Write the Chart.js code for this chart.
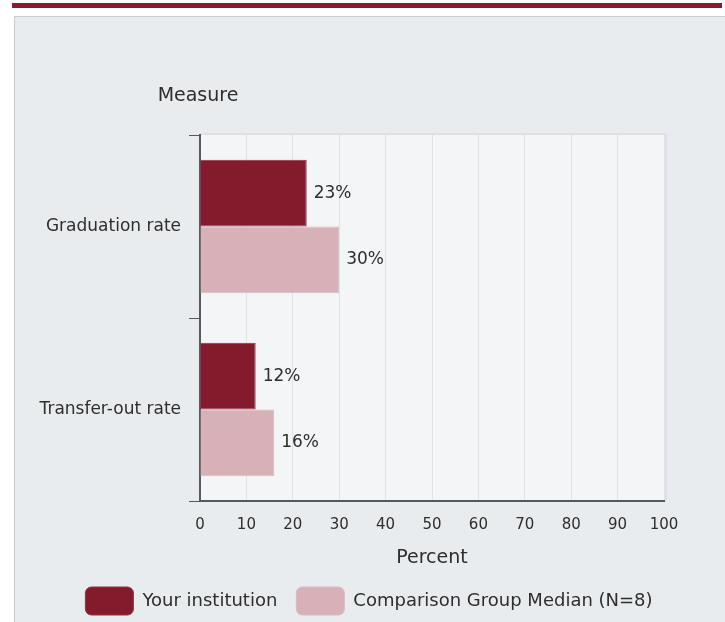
<!DOCTYPE html>
<html>
<head>
<meta charset="utf-8">
<script src="https://cdn.jsdelivr.net/npm/chart.js@4/dist/chart.umd.min.js"></script>
<style>
  body { margin: 0; background: #fff; }
  #topbar { position: absolute; left: 12px; top: 3px; width: 710px; height: 5px; background: #8b1a2e; }
  #panel { position: absolute; left: 14px; top: 16px; width: 720px; height: 620px; background: #e8ecee; border: 1px solid #c9cdd0; }
  #wrap { position: absolute; left: 0; top: 0; width: 725px; height: 622px; }
</style>
</head>
<body>
<div id="topbar"></div>
<div id="panel"></div>
<div id="wrap"><canvas id="measureChart" width="725" height="622"></canvas></div>
<script>
// chart values
var categories = ['Graduation rate', 'Transfer-out rate'];
var institutionValues = [23, 12];
var comparisonValues = [30, 16];
var xTicks = [0, 10, 20, 30, 40, 50, 60, 70, 80, 90, 100];

var fontFamily = '"DejaVu Sans", Verdana, sans-serif';
var textColor = '#2e2e2e';

// plot background + axis headings
var plotBackground = {
  id: 'plotBackground',
  beforeDraw: function (chart) {
    var a = chart.chartArea;
    var ctx = chart.ctx;
    ctx.save();
    ctx.fillStyle = '#dde1e5';
    ctx.fillRect(a.left, a.top - 2, a.right - a.left + 3, a.bottom - a.top + 2);
    ctx.fillStyle = '#f4f5f6';
    ctx.fillRect(a.left, a.top, a.right - a.left, a.bottom - a.top);
    ctx.fillStyle = textColor;
    ctx.font = '19px ' + fontFamily;
    ctx.textAlign = 'center';
    ctx.textBaseline = 'middle';
    ctx.fillText('Measure', a.left - 2, a.top - 39);
    ctx.fillText('Percent', (a.left + a.right) / 2, a.bottom + 57);
    ctx.restore();
  }
};

// legend sits a bit right of the plot centre in the original
var legendShift = {
  id: 'legendShift',
  afterLayout: function (chart) {
    if (chart.legend) {
      chart.legend.left += 22;
      chart.legend.right += 22;
    }
  }
};

// percent labels right of each bar
var valueLabels = {
  id: 'valueLabels',
  afterDatasetsDraw: function (chart) {
    var ctx = chart.ctx;
    ctx.save();
    ctx.fillStyle = textColor;
    ctx.font = '17px ' + fontFamily;
    ctx.textAlign = 'left';
    ctx.textBaseline = 'middle';
    chart.data.datasets.forEach(function (ds, i) {
      chart.getDatasetMeta(i).data.forEach(function (bar, j) {
        ctx.fillText(ds.data[j] + '%', bar.x + 7, bar.y);
      });
    });
    ctx.restore();
  }
};

var ctx = document.getElementById('measureChart').getContext('2d');
var chart = new Chart(ctx, {
  type: 'bar',
  data: {
    labels: categories,
    datasets: [
      {
        label: 'Your institution',
        data: institutionValues,
        backgroundColor: '#841b2d',
        borderColor: '#8f3345',
        borderWidth: 1,
        categoryPercentage: 0.73,
        barPercentage: 1.0
      },
      {
        label: 'Comparison Group Median (N=8)',
        data: comparisonValues,
        backgroundColor: '#d8b1b8',
        borderColor: '#dcb9bf',
        borderWidth: 1,
        categoryPercentage: 0.73,
        barPercentage: 1.0
      }
    ]
  },
  options: {
    indexAxis: 'y',
    responsive: false,
    animation: false,
    devicePixelRatio: 1,
    layout: { padding: { left: 30, right: 61, top: 135, bottom: -3 } },
    plugins: {
      legend: {
        display: true,
        position: 'bottom',
        labels: {
          color: textColor,
          font: { family: fontFamily, size: 18 },
          boxWidth: 48,
          boxHeight: 28,
          useBorderRadius: true,
          borderRadius: 6,
          padding: 19
        }
      },
      tooltip: { enabled: false }
    },
    scales: {
      x: {
        min: 0,
        max: 100,
        afterBuildTicks: function (s) {
          s.ticks = xTicks.map(function (v) { return { value: v }; });
        },
        afterFit: function (s) { s.height = 67; },
        ticks: {
          color: textColor,
          font: { family: fontFamily, size: 15 },
          padding: 15,
          maxRotation: 0
        },
        grid: {
          color: '#dce3ec',
          drawTicks: false
        },
        border: { color: '#555a60', width: 2 }
      },
      y: {
        afterFit: function (s) { s.width = 170; },
        ticks: {
          color: textColor,
          font: { family: fontFamily, size: 17 },
          padding: 8
        },
        grid: {
          offset: true,
          drawOnChartArea: false,
          tickLength: 11,
          color: '#555a60',
          lineWidth: 1
        },
        border: { color: '#555a60', width: 2 }
      }
    }
  },
  plugins: [plotBackground, legendShift, valueLabels]
});
</script>
</body>
</html>
